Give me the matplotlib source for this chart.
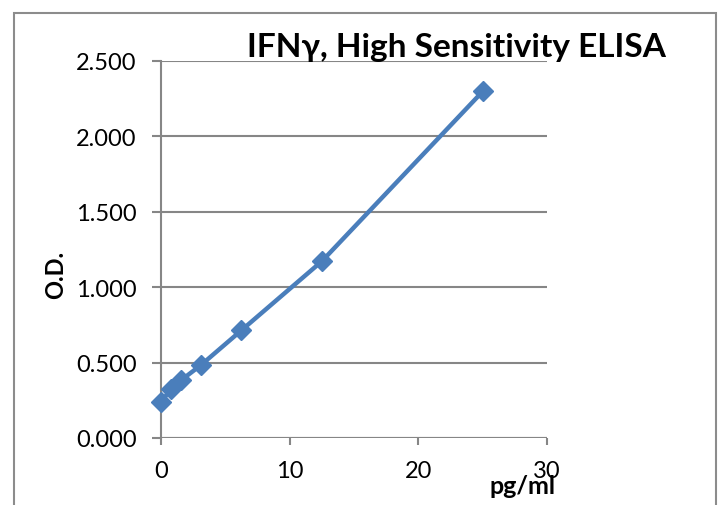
import matplotlib
matplotlib.use("Agg")
import matplotlib.pyplot as plt
from matplotlib.patches import Rectangle

conc = [0, 0.78, 1.56, 3.125, 6.25, 12.5, 25]
od = [0.238, 0.325, 0.383, 0.485, 0.714, 1.172, 2.298]
xticks = [0, 10, 20, 30]
yticks = [0.0, 0.5, 1.0, 1.5, 2.0, 2.5]
title = "IFN\u03b3, High Sensitivity ELISA"

plt.rcParams['font.family'] = ['Lato', 'DejaVu Sans']

fig = plt.figure(figsize=(7.22, 5.06), dpi=100)
fig.patches.append(Rectangle((14/722, -0.1), (716-14)/722, (506-14)/506 + 0.1,
                             transform=fig.transFigure, fill=False,
                             edgecolor='#8c8c8c', linewidth=1.5))
ax = fig.add_axes([161/722, (506-439)/506, (547-161)/722, (439-62)/506])
color = '#4a7ebb'
ax.plot(conc, od, color=color, linewidth=3.2, marker='D', markersize=10,
        markerfacecolor=color, markeredgecolor=color, zorder=3, clip_on=False)
ax.set_xlim(0, 30)
ax.set_ylim(0, 2.5)
ax.set_xticks(xticks)
ax.set_yticks(yticks)
ax.set_yticklabels([f"{v:.3f}" for v in yticks])
ax.grid(axis='y', color='#868686', linewidth=1.5)
ax.set_axisbelow(True)
for s in ['top', 'right', 'bottom']:
    ax.spines[s].set_visible(False)
ax.spines['left'].set_color('#868686')
ax.spines['left'].set_linewidth(1.5)
ax.tick_params(axis='y', length=6.5, width=1.5, color='#868686', labelsize=17, pad=11)
ax.tick_params(axis='x', length=5, width=1.5, color='#868686', labelsize=17, pad=11)
ax.axhline(0, color='#868686', linewidth=1.5, zorder=1)
fig.text(56/722, 1 - 275/506, "O.D.", rotation=90, fontsize=17, fontweight='bold',
         ha='center', va='center')
fig.text(523/722, 1 - 487/506, "pg/ml", fontsize=18, fontweight='bold',
         ha='center', va='center')
fig.text(456/722, 1 - 47/506, title, fontsize=24, fontweight='bold',
         ha='center', va='center')
fig.savefig("out.png", dpi=100)
